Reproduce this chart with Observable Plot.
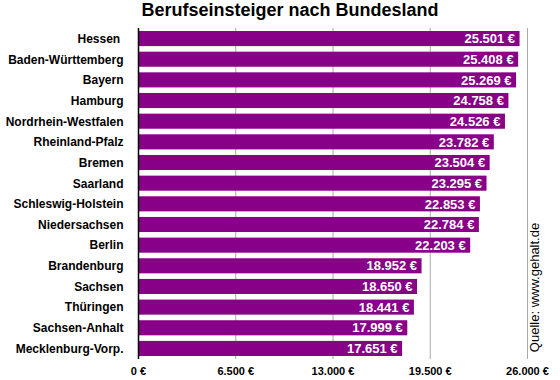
<!DOCTYPE html>
<html>
<head>
<meta charset="utf-8">
<script src="https://cdn.jsdelivr.net/npm/d3@7"></script>
<script src="https://cdn.jsdelivr.net/npm/@observablehq/plot@0.6"></script>
<style>
  body { margin: 0; background: white; }
  #title { width: 560px; box-sizing: border-box; padding-left: 20px; height: 28px; line-height: 28px;
    text-align: center; font: bold 18px "Liberation Sans", Arial, sans-serif; color: #000; }
  #chart svg { display: block; }
</style>
</head>
<body>
<div id="title">Berufseinsteiger nach Bundesland</div>
<div id="chart"></div>
<script>
const states = ["Hessen", "Baden-Württemberg", "Bayern", "Hamburg", "Nordrhein-Westfalen", "Rheinland-Pfalz",
  "Bremen", "Saarland", "Schleswig-Holstein", "Niedersachsen", "Berlin", "Brandenburg", "Sachsen",
  "Thüringen", "Sachsen-Anhalt", "Mecklenburg-Vorp."];
const salaries = [25501, 25408, 25269, 24758, 24526, 23782, 23504, 23295, 22853, 22784, 22203,
  18952, 18650, 18441, 17999, 17651];
const xTicks = [0, 6500, 13000, 19500, 26000];
const source = "Quelle: www.gehalt.de";

const data = states.map((s, i) => ({state: s, salary: salaries[i]}));
const de = d3.formatLocale({decimal: ",", thousands: ".", grouping: [3], currency: ["", " €"]});
const fmt = v => de.format(",")(v) + " €";

const chart = Plot.plot({
  width: 560, height: 352,
  marginTop: 0, marginBottom: 21, marginLeft: 138, marginRight: 33,
  style: {fontFamily: "'Liberation Sans', Arial, sans-serif", background: "white", color: "black"},
  x: {domain: [0, 26000], axis: null, label: null},
  y: {domain: states, paddingInner: 0.27, paddingOuter: 0.146, round: false, axis: null, label: null},
  marks: [
    Plot.ruleX(xTicks.slice(1), {stroke: "#aaaaaa", strokeWidth: 1}),
    Plot.barX(data, {x: "salary", y: "state", fill: "#880088"}),
    Plot.ruleX([0], {stroke: "black", strokeWidth: 1.5}),
    Plot.text(data, {x: "salary", y: "state", text: d => fmt(d.salary), textAnchor: "end", dx: -5,
      fill: "white", fontWeight: "bold", fontSize: 13}),
    Plot.axisX({ticks: xTicks, tickFormat: fmt, tickSize: 0, tickPadding: 8, fontWeight: "bold",
      fontSize: 11, anchor: "bottom", label: null}),
    Plot.axisY({tickSize: 0, tickPadding: 15, fontWeight: "bold", fontSize: 12, label: null,
      tickFormat: d => d === "Hessen" ? "Hessen\u00a0" : d}),
    Plot.text([source], {frameAnchor: "right", rotate: -90, dx: 7, dy: 93.5, fontSize: 13,
      lineAnchor: "middle", textAnchor: "middle", fill: "black"})
  ]
});
document.getElementById("chart").appendChild(chart);
</script>
</body>
</html>
